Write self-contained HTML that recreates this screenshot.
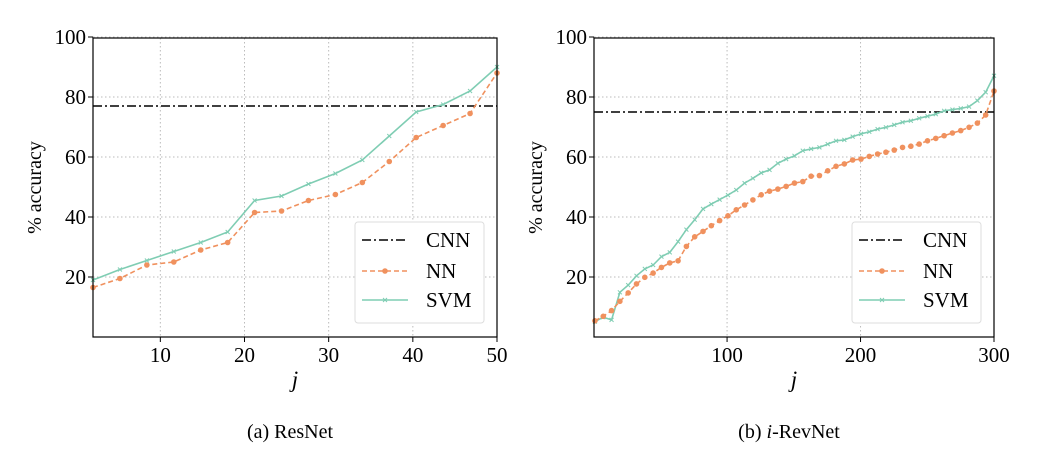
<!DOCTYPE html>
<html><head><meta charset="utf-8"><style>
body{margin:0;background:#fff;}
svg{display:block;font-family:"Liberation Serif",serif;}
</style></head><body>
<svg id="chart" width="1038" height="452" viewBox="0 0 1038 452" xmlns="http://www.w3.org/2000/svg"></svg>
<script>
// Left panel (ResNet)
const leftJ = [2,5.2,8.4,11.6,14.8,18,21.2,24.4,27.6,30.8,34,37.2,40.4,43.6,46.8,50];
const leftSVM = [19,22.5,25.5,28.5,31.5,35,45.5,47,51,54.5,59,67,75,77.5,82,90];
const leftNN = [16.5,19.5,24,25,29,31.5,41.5,42,45.5,47.5,51.5,58.5,66.5,70.5,74.5,88];
const leftCNN = 77;
const leftXTicks = [10,20,30,40,50];
// Right panel (i-RevNet)
const rightNN = [5.4,6.9,8.8,11.9,14.7,17.7,19.9,21.3,23.2,24.7,25.4,30.2,33.4,35.2,37.1,38.8,40.4,42.4,44,45.7,47.4,48.6,49.3,50.2,51.3,51.8,53.6,53.8,55.4,56.9,57.7,59,59.3,60.2,61,61.6,62.3,63.2,63.6,64.3,65.4,66.2,67.1,68,68.8,69.9,71.3,74,82];
const rightSVM = [5.1,6.6,5.7,14.9,17.3,20.4,22.7,24,26.8,28.2,31.8,35.8,39.1,42.7,44.3,45.8,47.3,49,51.3,52.9,54.7,55.7,57.9,59.3,60.4,62.1,62.7,63.2,64.3,65.4,65.7,66.8,67.7,68.4,69.3,69.9,70.7,71.6,72.1,72.9,73.6,74.3,75.4,75.8,76.2,76.8,78.8,81.6,87.1];
const rightCNN = 75;
const rightXTicks = [100,200,300];
const yTicks = [20,40,60,80,100];

const NS="http://www.w3.org/2000/svg";
const svg=document.getElementById('chart');
function mk(tag,attrs,parent){const e=document.createElementNS(NS,tag);for(const k in attrs)e.setAttribute(k,attrs[k]);(parent||svg).appendChild(e);return e;}

function panel(o){
  const g=mk('g',{});
  
  
  const L=o.x0,R=o.x1,T=38,B=337;
  const sx=v=>L+(v-o.xmin)/(o.xmax-o.xmin)*(R-L);
  const sy=v=>B-(v-0)/(100-0)*(B-T)*1.0033;
  o.xt.forEach(t=>{const l=mk('line',{x1:sx(t),x2:sx(t),y1:T,y2:B,stroke:'#bbb','stroke-dasharray':'1.5,2.5','stroke-width':1},g);
    });
  yTicks.forEach(t=>{const l=mk('line',{x1:L,x2:R,y1:sy(t),y2:sy(t),stroke:'#bbb','stroke-dasharray':'1.5,2.5','stroke-width':1},g);
    });
  const c=mk('line',{x1:L,x2:R,y1:sy(o.cnn),y2:sy(o.cnn),stroke:'#000','stroke-width':1.6,'stroke-dasharray':'9,3,2,3'},g);
  
  const pts=o.svm.map((v,i)=>sx(o.j[i])+','+sy(v)).join(' ');
  const s=mk('polyline',{points:pts,fill:'none',stroke:'#7fcdb3','stroke-width':1.6},g);
  
  o.svm.forEach((v,i)=>{const x=sx(o.j[i]),y=sy(v);
    const m=mk('path',{d:`M${x-2},${y-2}L${x+2},${y+2}M${x-2},${y+2}L${x+2},${y-2}`,stroke:'#7fcdb3','stroke-width':1},g);
    });
  const p2=o.nn.map((v,i)=>sx(o.j[i])+','+sy(v)).join(' ');
  const n=mk('polyline',{points:p2,fill:'none',stroke:'#f0915e','stroke-width':1.6,'stroke-dasharray':'5,3'},g);
  
  o.nn.forEach((v,i)=>{const m=mk('circle',{cx:sx(o.j[i]),cy:sy(v),r:2.8,fill:'#f0915e'},g);
    });
  const bx=mk('rect',{x:L,y:T,width:R-L,height:B-T,fill:'none',stroke:'#000','stroke-width':1.2},g);
  
  o.xt.forEach(t=>{mk('line',{x1:sx(t),x2:sx(t),y1:B,y2:B+5,stroke:'#000'},g);
    const tx=mk('text',{x:sx(t),y:B+25,'text-anchor':'middle','font-size':21},g);tx.textContent=t;
    });
  yTicks.forEach(t=>{mk('line',{x1:L-5,x2:L,y1:sy(t),y2:sy(t),stroke:'#000'},g);
    const tx=mk('text',{x:L-7,y:sy(t)+7,'text-anchor':'end','font-size':21},g);tx.textContent=t;
    });
  const yl=mk('text',{x:0,y:0,transform:`translate(${L-52},${(T+B)/2}) rotate(-90)`,'text-anchor':'middle','font-size':20},g);
  yl.textContent='% accuracy';
  const xl=mk('text',{x:(L+R)/2,y:387,'text-anchor':'middle','font-size':23,'font-style':'italic'},g);
  xl.textContent='j';
  const lg=mk('g',{},g);
  const lx=R-142;
  mk('rect',{x:lx,y:222,width:129,height:101,rx:3,fill:'#fff',stroke:'#ddd'},lg);
  const ent=[['CNN',240],['NN',271],['SVM',300]];
  mk('line',{x1:lx+7,x2:lx+53,y1:240,y2:240,stroke:'#000','stroke-width':1.6,'stroke-dasharray':'9,3,2,3'},lg);
  mk('line',{x1:lx+7,x2:lx+53,y1:271,y2:271,stroke:'#f0915e','stroke-width':1.6,'stroke-dasharray':'5,3'},lg);
  mk('circle',{cx:lx+30,cy:271,r:2.8,fill:'#f0915e'},lg);
  mk('line',{x1:lx+7,x2:lx+53,y1:300,y2:300,stroke:'#7fcdb3','stroke-width':1.6},lg);
  mk('path',{d:`M${lx+28},298L${lx+32},302M${lx+28},302L${lx+32},298`,stroke:'#7fcdb3'},lg);
  ent.forEach(e=>{const t=mk('text',{x:lx+71,y:e[1]+7,'font-size':21},lg);t.textContent=e[0];
    });
  const cap=mk('text',{x:(L+R)/2-5,y:438,'text-anchor':'middle','font-size':20},g);
  cap.innerHTML=o.cap;
}
const rJ=rightNN.map((_,i)=>1+i*299/(rightNN.length-1));
panel({name:'resnet-chart',x0:93,x1:497,xmin:2,xmax:50,xt:leftXTicks,j:leftJ,svm:leftSVM,nn:leftNN,cnn:leftCNN,cap:'(a) ResNet'});
panel({name:'irevnet-chart',x0:594,x1:994,xmin:0.3,xmax:300,xt:rightXTicks,j:rJ,svm:rightSVM,nn:rightNN,cnn:rightCNN,cap:'(b) <tspan font-style="italic">i</tspan>-RevNet'});
</script>
</body></html>
